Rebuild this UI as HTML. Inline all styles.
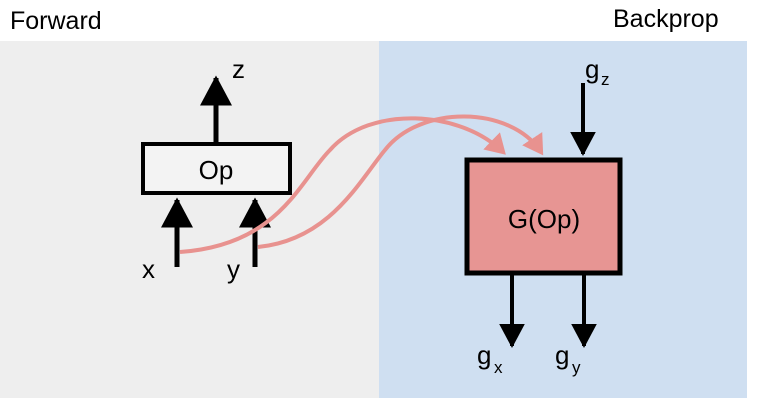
<!DOCTYPE html>
<html><head><meta charset="utf-8"><style>
body{margin:0;background:#fff;}
svg{display:block;font-family:"Liberation Sans",sans-serif;}
</style></head><body>
<svg width="759" height="414" viewBox="0 0 759 414">
<defs>
<marker id="ab" markerWidth="7" markerHeight="7" refX="5.5" refY="3.5" orient="auto" markerUnits="strokeWidth"><path d="M0,0.3 L6,3.5 L0,6.7 Z" fill="#000"/></marker>
<marker id="ap" markerWidth="6" markerHeight="6" refX="4" refY="3" orient="auto" markerUnits="strokeWidth"><path d="M0,0 L5,3 L0,6 Z" fill="#e8928f"/></marker>
</defs>
<rect x="0" y="41" width="379" height="357" fill="#eeeeee"/>
<rect x="379" y="41" width="368" height="357" fill="#cfdff1"/>
<text x="10" y="29" font-size="25">Forward</text>
<text x="613" y="27" font-size="25">Backprop</text>
<line x1="216" y1="142" x2="216" y2="78" stroke="#000" stroke-width="5" marker-end="url(#ab)"/>
<text x="232" y="78" font-size="26">z</text>
<rect x="143" y="144" width="147" height="49" fill="#f3f3f3" stroke="#000" stroke-width="4"/>
<text x="216" y="179" font-size="26" text-anchor="middle">Op</text>
<line x1="177" y1="267" x2="177" y2="200" stroke="#000" stroke-width="5" marker-end="url(#ab)"/>
<line x1="255" y1="267" x2="255" y2="200" stroke="#000" stroke-width="5" marker-end="url(#ab)"/>
<text x="142" y="278" font-size="26">x</text>
<text x="227" y="278" font-size="26">y</text>
<rect x="467" y="160" width="153" height="113" fill="#e79593" stroke="#000" stroke-width="5"/>
<text x="544" y="228" font-size="26" text-anchor="middle">G(Op)</text>
<line x1="583" y1="83" x2="583" y2="154" stroke="#000" stroke-width="4" marker-end="url(#ab)"/>
<text x="585" y="78" font-size="26">g</text><text x="601" y="85" font-size="17">z</text>
<line x1="512" y1="275" x2="512" y2="346" stroke="#000" stroke-width="4" marker-end="url(#ab)"/>
<line x1="584" y1="275" x2="584" y2="346" stroke="#000" stroke-width="4" marker-end="url(#ab)"/>
<text x="477" y="364" font-size="26">g</text><text x="494" y="373" font-size="17">x</text>
<text x="555" y="364" font-size="26">g</text><text x="572" y="373" font-size="17">y</text>
<path d="M180,252 C280,245 300,180 330,150 C370,105 460,110 503,152" fill="none" stroke="#e8928f" stroke-width="4" marker-end="url(#ap)"/>
<path d="M258,247 C330,240 360,180 385,150 C420,105 510,105 541,152" fill="none" stroke="#e8928f" stroke-width="4" marker-end="url(#ap)"/>
</svg>
</body></html>
